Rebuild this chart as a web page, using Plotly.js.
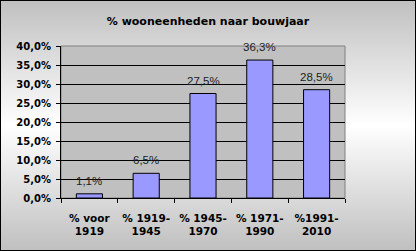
<!DOCTYPE html>
<html>
<head>
<meta charset="utf-8">
<script src="https://cdn.plot.ly/plotly-3.0.1.min.js"></script>
<style>
html, body { margin:0; padding:0; }
#wrap { position:absolute; left:0; top:0; width:416px; height:251px; box-sizing:border-box;
  border:1px solid #000;
  background: linear-gradient(to bottom, #c0c0c0 0%, #ffffff 50%, #c0c0c0 100%); }
#chart { position:absolute; left:-1px; top:-1px; width:416px; height:251px; }
</style>
</head>
<body>
<div id="wrap"><div id="chart"></div></div>
<script>
const categories = ['% voor<br>1919', '% 1919-<br>1945', '% 1945-<br>1970', '% 1971-<br>1990', '%1991-<br>2010'];
const values = [1.1, 6.5, 27.5, 36.3, 28.5];
const labels = ['1,1%', '6,5%', '27,5%', '36,3%', '28,5%'];
const yTicks = [0, 5, 10, 15, 20, 25, 30, 35, 40];
const yTickText = ['0,0%', '5,0%', '10,0%', '15,0%', '20,0%', '25,0%', '30,0%', '35,0%', '40,0%'];

const trace = {
  type: 'bar',
  x: categories,
  y: values,
  marker: { color: '#9999ff', line: { color: '#000', width: 1 } },
  hoverinfo: 'none'
};

const annotations = categories.map((c, i) => ({
  x: c, y: values[i], xref: 'x', yref: 'y',
  text: labels[i], showarrow: false, yanchor: 'bottom', yshift: 5,
  font: { family: 'Liberation Sans, Arial, sans-serif', size: 11.5, color: '#222' }
}));

const layout = {
  width: 416, height: 251,
  margin: { l: 61, r: 71, t: 46, b: 53 },
  paper_bgcolor: 'rgba(0,0,0,0)',
  plot_bgcolor: '#c0c0c0',
  separators: ',.',
  showlegend: false,
  bargap: 0.54,
  title: { text: '% wooneenheden naar bouwjaar', x: 0.5, xanchor: 'center', y: 0.915, yanchor: 'middle',
    font: { family: 'DejaVu Sans, Verdana, sans-serif', size: 11, weight: 'bold', color: '#000' } },
  xaxis: {
    type: 'category', tickson: 'boundaries', ticks: 'outside', ticklen: 4, tickcolor: '#000',
    ticklabelstandoff: 10, tickangle: 0,
    showline: true, linecolor: '#000', linewidth: 1, showgrid: false, zeroline: false,
    tickfont: { family: 'DejaVu Sans, Verdana, sans-serif', size: 10.5, weight: 'bold', color: '#000' },
    fixedrange: true
  },
  yaxis: {
    range: [0, 40], tickmode: 'array', tickvals: yTicks, ticktext: yTickText,
    ticks: 'outside', ticklen: 4, tickcolor: '#000', ticklabelstandoff: 3,
    showline: true, linecolor: '#000', linewidth: 1,
    showgrid: true, gridcolor: '#000', gridwidth: 1, zeroline: false,
    tickfont: { family: 'DejaVu Sans, Verdana, sans-serif', size: 10, weight: 'bold', color: '#000' },
    fixedrange: true
  },
  shapes: [{ type: 'rect', xref: 'paper', yref: 'paper', x0: 0, x1: 1, y0: 0, y1: 1,
    line: { color: '#808080', width: 1 }, layer: 'below' }],
  annotations: annotations
};

Plotly.newPlot('chart', [trace], layout, { staticPlot: true, displayModeBar: false });
</script>
</body>
</html>
